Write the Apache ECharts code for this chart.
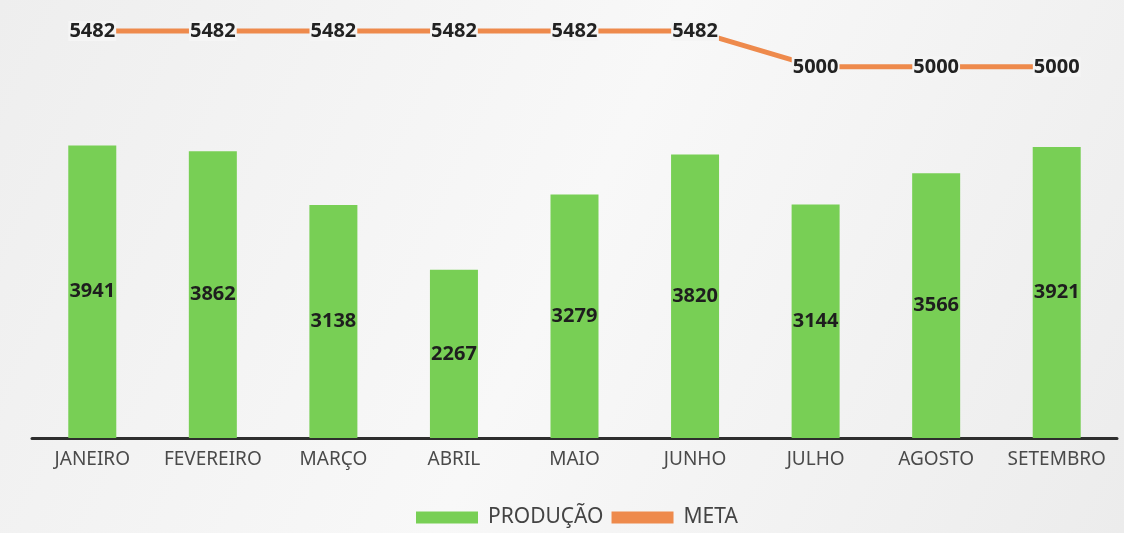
<!DOCTYPE html>
<html><head><meta charset="utf-8">
<script src="https://cdn.jsdelivr.net/npm/echarts@6/dist/echarts.min.js"></script>
<style>html,body{margin:0;padding:0;background:#f3f3f3;}#c{width:1124px;height:533px;}</style>
</head><body><div id="c"></div>
<script>
const categories = ['JANEIRO','FEVEREIRO','MARÇO','ABRIL','MAIO','JUNHO','JULHO','AGOSTO','SETEMBRO'];
const producao = [3941,3862,3138,2267,3279,3820,3144,3566,3921];
const meta = [5482,5482,5482,5482,5482,5482,5000,5000,5000];

const chart = echarts.init(document.getElementById('c'));
chart.setOption({
  backgroundColor: {type:'linear',x:0,y:0,x2:1,y2:1,colorStops:[{offset:0,color:'#eeeeee'},{offset:0.5,color:'#f8f8f8'},{offset:1,color:'#ececec'}]},
  animation:false,
  textStyle:{fontFamily:'Noto Sans'},
  grid:{left:32,right:7,top:0,height:438},
  legend:{
    bottom:0, left:411, itemGap:8,
    itemWidth:62, itemHeight:12,
    textStyle:{fontSize:21,color:'#444',fontFamily:'Noto Sans',padding:[0,0,0,5]},
    data:[{name:'PRODUÇÃO',icon:'rect'},{name:'META',icon:'rect',itemStyle:{color:'#ee8a4c'}}]
  },
  xAxis:{
    type:'category', data:categories,
    axisLine:{show:true,lineStyle:{color:'#2e2e2e',width:3}},
    axisTick:{show:false},
    axisLabel:{fontSize:19,color:'#4a4a4a',margin:12,interval:0}
  },
  yAxis:{type:'value',min:0,max:5900,show:false,splitLine:{show:false}},
  series:[
    {name:'PRODUÇÃO',type:'bar',data:producao,barWidth:48,
     itemStyle:{color:'#78cf55'},
     label:{show:true,position:'inside',color:'#1e1e1e',fontWeight:'bold',fontSize:20,textBorderWidth:0}},
    {name:'META',type:'line',data:meta,symbol:'circle',symbolSize:0,showSymbol:true,
     lineStyle:{color:'#ee8a4c',width:5},itemStyle:{color:'#ee8a4c'},
     label:{show:true,position:'inside',color:'#222',fontWeight:'bold',fontSize:20,textBorderWidth:0,
       backgroundColor:'#f5f5f5',padding:[0,1]}}
  ]
});
</script></body></html>
